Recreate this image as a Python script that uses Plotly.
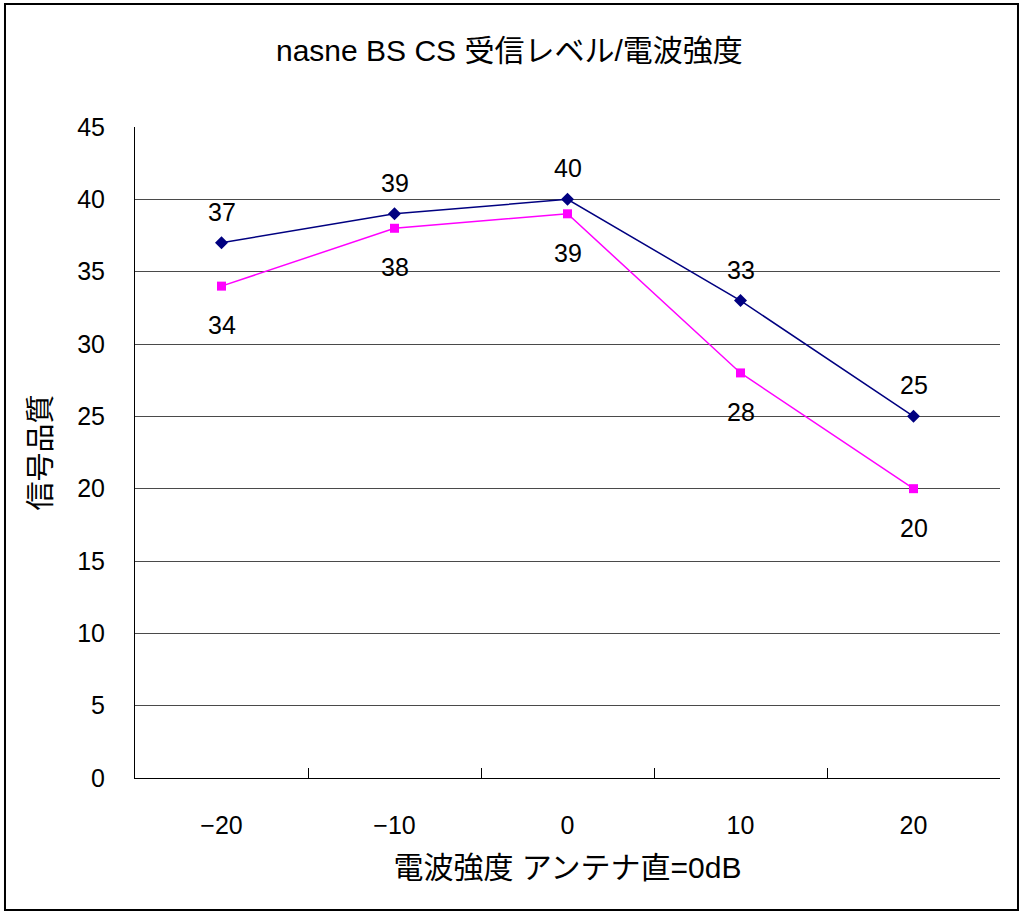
import plotly.graph_objects as go

categories = ["−20", "−10", "0", "10", "20"]
navy_values = [37, 39, 40, 33, 25]
magenta_values = [34, 38, 39, 28, 20]
y_ticks = [0, 5, 10, 15, 20, 25, 30, 35, 40, 45]

FONT = "Liberation Sans, Arial, Noto Sans CJK JP, sans-serif"

fig = go.Figure()
fig.add_trace(go.Scatter(
    x=categories, y=navy_values, mode="lines+markers",
    line=dict(color="#000080", width=1.5),
    marker=dict(symbol="diamond", size=10, color="#000080"),
    showlegend=False, hoverinfo="skip"))
fig.add_trace(go.Scatter(
    x=categories, y=magenta_values, mode="lines+markers",
    line=dict(color="#FF00FF", width=1.5),
    marker=dict(symbol="square", size=9, color="#FF00FF"),
    showlegend=False, hoverinfo="skip"))

annotations = []
for i, v in enumerate(navy_values):
    annotations.append(dict(x=i, y=v, xref="x", yref="y", text=str(v), showarrow=False,
                            yshift=31, font=dict(family=FONT, size=25, color="black")))
for i, v in enumerate(magenta_values):
    annotations.append(dict(x=i, y=v, xref="x", yref="y", text=str(v), showarrow=False,
                            yshift=-39, font=dict(family=FONT, size=25, color="black")))

annotations.append(dict(x=0.4324, y=1.118, xref="paper", yref="paper",
                        xanchor="center", yanchor="middle",
                        text="nasne BS CS 受信レベル/電波強度", showarrow=False,
                        font=dict(family=FONT, size=30, color="black")))

fig.update_layout(
    width=1024, height=917,
    margin=dict(l=135, r=24, t=127, b=139),
    paper_bgcolor="white", plot_bgcolor="white",
    annotations=annotations,
    xaxis=dict(
        type="category", range=[-0.5, 4.5],
        tickson="boundaries", ticks="inside", ticklen=10, tickcolor="black", tickwidth=1,
        showline=True, linecolor="black", linewidth=1, showgrid=False,
        tickfont=dict(family=FONT, size=25, color="black"),
        ticklabelstandoff=25,
        title=dict(text="電波強度 アンテナ直=0dB", standoff=18,
                   font=dict(family=FONT, size=30, color="black")),
    ),
    yaxis=dict(
        range=[0, 45], tickvals=y_ticks, ticks="",
        showline=True, linecolor="black", linewidth=1,
        showgrid=True, gridcolor="#4a4a4a", gridwidth=1,
        zeroline=False,
        tickfont=dict(family=FONT, size=25, color="black"),
        ticklabelstandoff=24,
        title=dict(text="信号品質", standoff=17,
                   font=dict(family=FONT, size=29, color="black")),
    ),
    shapes=[dict(type="rect", xref="paper", yref="paper",
                 x0=-0.1503, x1=1.0208, y0=-0.2028, y1=1.189,
                 line=dict(color="black", width=2), layer="above")],
)

fig.write_html("out.html", config={"displayModeBar": False},
               post_script="document.body.style.margin='0';document.body.style.overflow='hidden';")
